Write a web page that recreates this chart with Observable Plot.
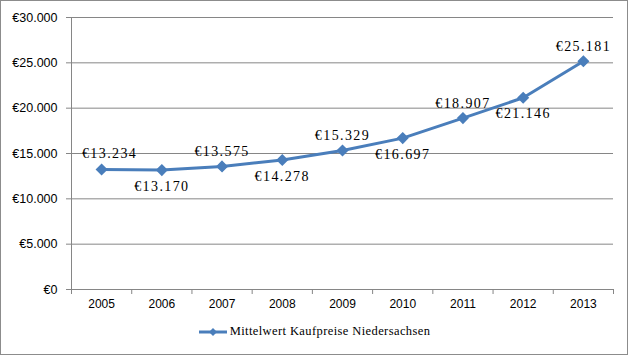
<!DOCTYPE html>
<html>
<head>
<meta charset="utf-8">
<script src="https://cdn.jsdelivr.net/npm/d3@7"></script>
<script src="https://cdn.jsdelivr.net/npm/@observablehq/plot@0.6"></script>
<style>
  html, body { margin: 0; padding: 0; background: #fff; }
  #frame { position: absolute; left: 0; top: 0; width: 626px; height: 353px; border: 1px solid #8c8c8c; background: #fff; overflow: hidden; }
  #chart svg { display: block; }
  .vals text { letter-spacing: 1.4px; }
  #legend { position: absolute; left: 0; width: 626px; top: 323px; display: flex; justify-content: center; align-items: center; font-family: "Liberation Serif", serif; font-size: 12.5px; letter-spacing: 0.4px; color: #000; }
  #legend svg { display: block; margin-right: 2px; }
</style>
</head>
<body>
<div id="frame">
  <div id="chart"></div>
  <div id="legend"></div>
</div>
<script>
const years = [2005, 2006, 2007, 2008, 2009, 2010, 2011, 2012, 2013];
const values = [13234, 13170, 13575, 14278, 15329, 16697, 18907, 21146, 25181];
const yTicks = [0, 5000, 10000, 15000, 20000, 25000, 30000];
const seriesName = "Mittelwert Kaufpreise Niedersachsen";
const color = "#4A7EBB";

const data = years.map((year, i) => ({year, value: values[i], i}));
const boundaries = [...years.map(y => y - 0.5), years[years.length - 1] + 0.5];

const loc = d3.formatLocale({decimal: ",", thousands: ".", grouping: [3], currency: ["€", ""]});
const fmt = loc.format("$,.0f");

const plot = Plot.plot({
  width: 626,
  height: 320,
  marginLeft: 70,
  marginRight: 14,
  marginTop: 16,
  marginBottom: 32,
  style: {fontFamily: "'Liberation Sans', sans-serif", fontSize: "12px", color: "#000", background: "#fff"},
  x: {type: "linear", domain: [years[0] - 0.5, years[years.length - 1] + 0.5]},
  y: {domain: [0, 30000]},
  marks: [
    Plot.gridY(yTicks, {stroke: "#868686", strokeOpacity: 1}),
    Plot.ruleX([years[0] - 0.5], {stroke: "#868686"}),
    Plot.ruleY([0], {stroke: "#868686"}),
    Plot.axisY(yTicks, {tickFormat: fmt, tickSize: 5, tickPadding: 9, stroke: "#868686", label: null, fill: "#000", fontSize: 12.5}),
    Plot.axisX(boundaries, {tickFormat: () => "", tickSize: 5, stroke: "#868686", label: null}),
    Plot.axisX(years, {tickFormat: d => String(d), tickSize: 0, tickPadding: 10, label: null, fill: "#000"}),
    Plot.line(data, {x: "year", y: "value", stroke: color, strokeWidth: 3}),
    Plot.dot(data, {x: "year", y: "value", symbol: "diamond2", r: 4.5, fill: color, stroke: color}),
    Plot.text(data.filter(d => d.i === 0), {x: "year", y: "value", text: d => fmt(d.value), dy: -16, dx: 8, fontFamily: "'Liberation Serif', serif", fontSize: 14, fill: "#000", className: "vals"}),
    Plot.text(data.filter(d => d.i > 0 && d.i % 2 === 0), {x: "year", y: "value", text: d => fmt(d.value), dy: -15, fontFamily: "'Liberation Serif', serif", fontSize: 14, fill: "#000", className: "vals"}),
    Plot.text(data.filter(d => d.i % 2 === 1), {x: "year", y: "value", text: d => fmt(d.value), dy: 16, fontFamily: "'Liberation Serif', serif", fontSize: 14, fill: "#000", className: "vals"})
  ]
});
document.getElementById("chart").appendChild(plot);

const legend = document.getElementById("legend");
legend.innerHTML = `<svg width="30" height="12"><line x1="1" x2="29" y1="6" y2="6" stroke="${color}" stroke-width="3"/><path d="M15,2 L19,6 L15,10 L11,6 Z" fill="${color}"/></svg><span>${seriesName}</span>`;
</script>
</body>
</html>
